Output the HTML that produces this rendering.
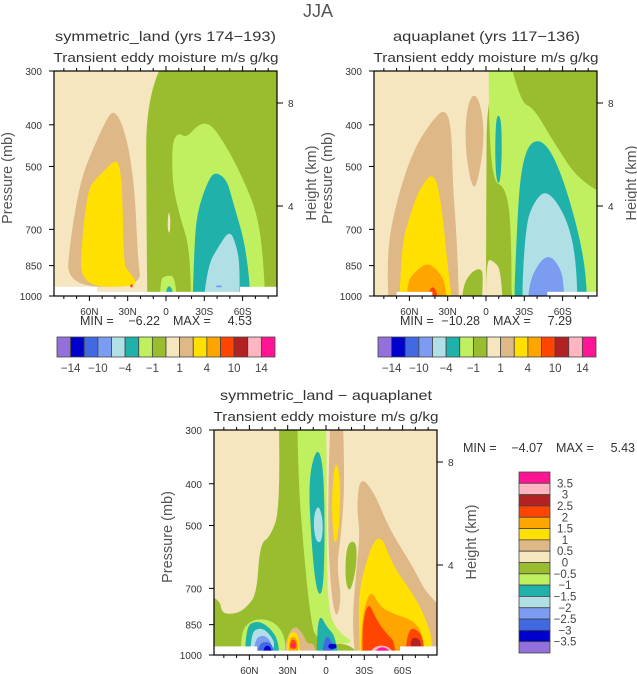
<!DOCTYPE html>
<html><head><meta charset="utf-8"><style>
html,body{margin:0;padding:0;background:#fff;}
svg{display:block;font-family:"Liberation Sans",sans-serif;}
</style></head><body>
<svg id="fig" width="637" height="674" viewBox="0 0 637 674"></svg>
<script>
// ---- data (lat in degrees N positive, pressure in mb) ----
const p1Levels = [7, 9, 10, 6, 6, 5, 4, 8, 5, 12, 3];
const p1Shapes = [
 [[16,300],[-90,300],[-90,1000],[14,1000],[15,900]],
 [[78,952],[75,741],[67,538],[56,446],[45,380],[40,372],[34,400],[28,470],[24,598],[22,825],[19,952]],
 [[67,952],[66,741],[61,567],[56,538],[48,510],[40,483],[36,496],[34,598],[33,847],[30,870],[24,917],[24,952]],
 [[-5.5,434],[-10,418],[-16,429],[-25,400],[-33,396],[-40,416],[-52,475],[-63,558],[-71,641],[-76,794],[-79,978],[-20,978],[-19,782],[-11,655],[-5.5,558],[-4.7,483]],
 [[4,978],[5,920],[0,895],[-8,900],[-9,978]],
 [[-40,515],[-48,540],[-52,598],[-64,794],[-68,978],[-20,978],[-22,794],[-24,641],[-34,529]],
 [[-50,703],[-55,760],[-58,856],[-57,978],[-27,978],[-32,856],[-42,760]],
 [[-2,630],[-3.5,660],[-3,720],[-1,700]],
 [[0,978],[1,950],[-6,950],[-8,978]],
 [[28,940],[26,940],[26,955],[28,955]],
 [[-39,945],[-44,945],[-44,955],[-39,955]]
];
const p1White = [[88,54,952],[-58,-87,952],[90,-90,978]];
const p1Min = "−6.22", p1Max = "4.53";

const p2Levels = [7, 9, 9, 10, 11, 12, 6, 5, 5, 4, 3, 8, 7];
const p2Shapes = [
 [[-1,300],[-90,300],[-90,1000],[0,1000],[0,800]],
 [[75,1000],[78,794],[70,600],[57,458],[42,390],[32,366],[27,405],[26,558],[23,714],[20,1000]],
 [[11,338],[16,380],[16,470],[10,576],[5,520],[1,418],[5,350]],
 [[40,510],[34,641],[30,856],[23,1000],[69,1000],[66,760],[60,655],[52,560]],
 [[46,835],[38,870],[31,935],[30,1000],[63,1000],[62,930],[56,880]],
 [[45,950],[38,960],[34,1000],[50,1000]],
 [[-1.5,300],[-11,300],[-27,356],[-37,364],[-52,434],[-76,558],[-87,641],[-87,760],[-84,1000],[-20,1000],[-20,714],[-16,558],[-3,538]],
 [[-34.5,434],[-48,440],[-63,558],[-79,856],[-79,1000],[-21,1000],[-24,714],[-27,512]],
 [[-8,378],[-12,385],[-12.5,470],[-11,550],[-8,540],[-7,460]],
 [[-48,565],[-63,655],[-71,825],[-72,1000],[-27,1000],[-30.5,690],[-38,600]],
 [[-50,804],[-57,850],[-61,917],[-62,1000],[-32,1000],[-33,940],[-42,830]],
 [[0,820],[-6,830],[-12,870],[-14,1000],[0,1000]],
 [[19,960],[12,880],[4,860],[2,900],[5,1000],[19,1000]]
];
const p2White = [[70,42,978],[-48,-88,978]];
const p2Min = "−10.28", p2Max = "7.29";

const p3Levels = [7,6,6,5,4,5,2,1,5,4,3,2,1,9,10,11,12,15,9,10,7,9,10,11,12,12,13,14,15];
const p3Shapes = [
 [[37.3,300],[21.7,300],[20.4,392],[15.2,561],[12.6,802],[7.3,942],[-26.6,942],[-29.2,977],[86.9,977],[86.9,659],[83,734],[82,802],[70,802],[62,774],[54.3,721],[51.7,551],[43.9,532],[36,461]],
 [[23,300],[-0.5,300],[-0.5,561],[-1.8,802],[-10.9,893],[-24,942],[7.3,942],[12.6,802],[17.8,561],[21.7,392]],
 [[67.4,893],[59.5,831],[46.5,823],[36,861],[30.8,942],[33.4,977],[66,977]],
 [[7.3,327],[2.1,359],[0.8,513],[2.1,721],[7.3,721],[11.2,561],[13.9,392]],
 [[6,445],[2.1,487],[3.4,551],[8.6,541],[10,478]],
 [[4.7,802],[-0.5,861],[-8.3,909],[-12.2,977],[7.3,977],[7.3,893]],
 [[2.1,893],[-5.7,926],[-9.6,977],[4.7,977]],
 [[-1.8,942],[-8.3,942],[-8.3,968],[-1.8,968]],
 [[63.4,861],[54.3,831],[43.9,861],[36,942],[36,977],[63.4,977]],
 [[59.5,893],[51.7,861],[43.9,893],[38.6,960],[59.5,977]],
 [[57,926],[49,893],[41.3,942],[38.6,977],[57,977]],
 [[54.3,951],[46.5,926],[40,960],[40,977],[54.3,977]],
 [[50.4,951],[41.3,951],[41.3,977],[50.4,977]],
 [[33.4,960],[25.6,846],[17.8,893],[15.2,942],[7.3,942],[7.3,977],[33.4,977]],
 [[30.8,909],[25.6,877],[20.4,909],[19,977],[31.3,977]],
 [[29.5,926],[25.6,901],[21.7,926],[21,977],[29.5,977]],
 [[28.2,934],[25.6,917],[23,934],[23,968],[28.2,968]],
 [[26.9,942],[24.3,942],[24.3,960],[26.9,960]],
 [[-4.4,300],[-12.2,300],[-14.8,392],[-12.2,513],[-8.3,625],[-12.2,734],[-8.3,831],[-4.4,734],[-1.8,561],[-1.8,392]],
 [[-7,352],[-11,378],[-11,478],[-8.3,551],[-5.7,541],[-4.4,430]],
 [[-16,551],[-24,541],[-24,625],[-18.8,721],[-14.8,671]],
 [[-24,453],[-26.6,385],[-37,414],[-50,513],[-68.4,625],[-81.4,747],[-86.6,942],[-86.6,977],[-26.6,977],[-20,861],[-24,625],[-26.6,522]],
 [[-41,504],[-52.7,625],[-68.4,721],[-78.8,831],[-84,942],[-81.4,977],[-27.9,977],[-25.3,831],[-26.6,671]],
 [[-34.4,695],[-42.3,774],[-52.7,802],[-68.4,831],[-76.2,893],[-78.8,977],[-29.2,977],[-26.6,861]],
 [[-33,747],[-39.7,831],[-47.5,893],[-55.3,942],[-52.7,977],[-29.7,977],[-27.9,861]],
 [[-63,861],[-73.6,877],[-77.5,960],[-76.2,977],[-60.5,977]],
 [[-67,909],[-73.6,917],[-74.9,968],[-65.8,968]],
 [[-31.8,951],[-55.3,951],[-55.3,977],[-31.8,977]],
 [[-35.7,960],[-52.7,960],[-52.7,977],[-35.7,977]]
];
const p3White = [[88,54,955],[-58,-88,955],[90,-90,977]];
const p3Min = "−4.07", p3Max = "5.43";

const latTicks = [60,30,0,-30,-60];
const latTickLabels = ["60N","30N","0","30S","60S"];
const latMinor = [-80,-70,-50,-40,-20,-10,10,20,40,50,70,80];
const pTicks = [300,400,500,700,850,1000];
const zTicks = [8,4];
const cbLabels12 = ["−14","−10","−4","−1","1","4","10","14"];
const cbLabels3 = ["3.5","3","2.5","2","1.5","1","0.5","0","−0.5","−1","−1.5","−2","−2.5","−3","−3.5"];

// ---- styles ----
const palette = ['#9370DB','#0000CD','#4169E1','#7B9CF0','#B0E0E6','#20B2AA','#C0F060','#9ABD30','#F5E6C0','#DEB887','#FFE000','#FFA500','#FF4500','#B22222','#FFB6C1','#FF1493'];
const NS='http://www.w3.org/2000/svg';
const svg=document.getElementById('fig');
function el(tag,attrs,parent){const e=document.createElementNS(NS,tag);for(const k in attrs)e.setAttribute(k,attrs[k]);(parent||svg).appendChild(e);return e;}
function txt(s,x,y,size,anchor,parent,extra){const t=el('text',Object.assign({x:x,y:y,'font-size':size,'text-anchor':anchor||'middle',fill:'#333'},extra||{}),parent);t.textContent=s;return t;}

function makeAxes(x0,top){
  return {x:lat=>x0-lat*1.277, y:p=>top+Math.log(p/300)/Math.log(1000/300)*225};
}
// push edge-touching vertices outside the clip so smoothing doesn't round plot corners
function edgeLat(l){return l>=86?130:(l<=-86?-130:l);}
function edgeP(p){return p>=977?1250:(p<=300?230:p);}
function smoothPath(pts){
  const n=pts.length;let d='';
  for(let i=0;i<n;i++){const a=pts[i],b=pts[(i+1)%n];const mx=(a[0]+b[0])/2,my=(a[1]+b[1])/2;
    if(i===0)d+='M'+mx.toFixed(1)+' '+my.toFixed(1);
    else d+=' Q'+a[0].toFixed(1)+' '+a[1].toFixed(1)+' '+mx.toFixed(1)+' '+my.toFixed(1);}
  const a=pts[0],b=pts[1];d+=' Q'+a[0].toFixed(1)+' '+a[1].toFixed(1)+' '+((a[0]+b[0])/2).toFixed(1)+' '+((a[1]+b[1])/2).toFixed(1)+'Z';
  return d;
}
function minMax(minv,maxv,cx,y,parent,name){
  const g=el('g',{},parent);
  
  
  txt('MIN =',cx-85,y,12.5,'start',g);
  txt(minv,cx-5,y,12.5,'end',g);
  txt('MAX =',cx+8,y,12.5,'start',g);
  txt(maxv,cx+87,y,12.5,'end',g);
}
function panel(id,x0,left,top,levels,shapes,white,title,minv,maxv){
  const ax=makeAxes(x0,top);const W=223,H=225;
  const g=el('g',{});
  
  
  const cp=el('clipPath',{id:id+'-clip'},g);el('rect',{x:left,y:top,width:W,height:H},cp);
  const fg=el('g',{'clip-path':'url(#'+id+'-clip)'},g);
  el('rect',{x:left,y:top,width:W,height:H,fill:palette[8]},fg);
  shapes.forEach((s,i)=>{
    const pts=s.map(q=>[ax.x(edgeLat(q[0])),ax.y(edgeP(q[1]))]);
    const path=el('path',{d:smoothPath(pts),fill:palette[levels[i]]},fg);
    
    
  });
  white.forEach(w=>{
    const xa=ax.x(w[0]),xb=ax.x(w[1]);
    el('rect',{x:Math.min(xa,xb),y:ax.y(w[2]),width:Math.abs(xb-xa),height:top+H-ax.y(w[2])+1,fill:'#fff'},fg);
  });
  const fr=el('rect',{x:left,y:top,width:W,height:H,fill:'none',stroke:'#000','stroke-width':1.2},g);
  
  
  latTicks.forEach((l,i)=>{const x=ax.x(l);
    el('line',{x1:x,y1:top+H,x2:x,y2:top+H+5,stroke:'#000'},g);
    el('line',{x1:x,y1:top,x2:x,y2:top-5,stroke:'#000'},g);
    const t=txt(latTickLabels[i],x,top+H+19,10,'middle',g);
    
    });
  latMinor.forEach(l=>{const x=ax.x(l);
    el('line',{x1:x,y1:top+H,x2:x,y2:top+H+3,stroke:'#000'},g);
    el('line',{x1:x,y1:top,x2:x,y2:top-3,stroke:'#000'},g);});
  pTicks.forEach(p=>{const y=ax.y(p);
    el('line',{x1:left,y1:y,x2:left-5,y2:y,stroke:'#000'},g);
    const t=txt(String(p),left-12,y+4,10,'end',g);
    
    });
  zTicks.forEach(z=>{const y=top+32+(8-z)*(103/4);
    el('line',{x1:left+W,y1:y,x2:left+W+6,y2:y,stroke:'#000'},g);
    txt(String(z),left+W+11,y+4,10,'start',g);});
  const yt=txt('Pressure (mb)',0,0,14.5,'middle',g,{transform:'translate('+(left-42)+','+(top+107)+') rotate(-90)',fill:'#555'});
  
  
  const ht=txt('Height (km)',0,0,14.5,'middle',g,{transform:'translate('+(left+W+39)+','+(top+112)+') rotate(-90)',fill:'#555'});
  
  
  const tt=txt(title[0],title[1]+title[2]/2,top-30,14,'middle',g,{textLength:title[2],lengthAdjust:'spacingAndGlyphs'});
  
  
  const st=txt('Transient eddy moisture m/s g/kg',left+112,top-9,13,'middle',g,{textLength:225,lengthAdjust:'spacingAndGlyphs'});
  
  
  if(minv!==null) minMax(minv,maxv,left+111,top+254,g,'min-max-label');
  return ax;
}
function hbar(id,left,top,w,h){
  const g=el('g',{});
  
  
  const bw=w/16;
  palette.forEach((c,i)=>{const r=el('rect',{x:left+i*bw,y:top,width:bw,height:h,fill:c,stroke:'#444','stroke-width':0.8},g);
    
    });
  cbLabels12.forEach((s,i)=>{const t=txt(s,left+(2*i+1)*bw,top+h+15,11.5,'middle',g,{fill:'#444'});
    
    });
}

el('text',{x:318,y:17,'font-size':18,'text-anchor':'middle',fill:'#555'}).textContent='JJA';



panel('panel-symmetric-land',166,54,71,p1Levels,p1Shapes,p1White,['symmetric_land (yrs 174−193)',55,221],p1Min,p1Max);
panel('panel-aquaplanet',486,374,71,p2Levels,p2Shapes,p2White,['aquaplanet (yrs 117−136)',393,187],p2Min,p2Max);
panel('panel-difference',326,214,430,p3Levels,p3Shapes,p3White,['symmetric_land − aquaplanet',220,212],null,null);
hbar('colorbar-left',57,337,218,20);
hbar('colorbar-right',378,337,218,20);

// difference legend
const lg=el('g',{});


const lt=472,lh=181/16;
palette.slice().reverse().forEach((c,i)=>{const r=el('rect',{x:519,y:lt+i*lh,width:31,height:lh,fill:c,stroke:'#444','stroke-width':0.8},lg);
  
  });
cbLabels3.forEach((s,i)=>{const t=txt(s,565,lt+(i+1)*lh+4,11.5,'middle',lg,{fill:'#444'});
  
  });
minMax(p3Min,p3Max,548,452,lg,'difference-min-max');
</script>
</body></html>
